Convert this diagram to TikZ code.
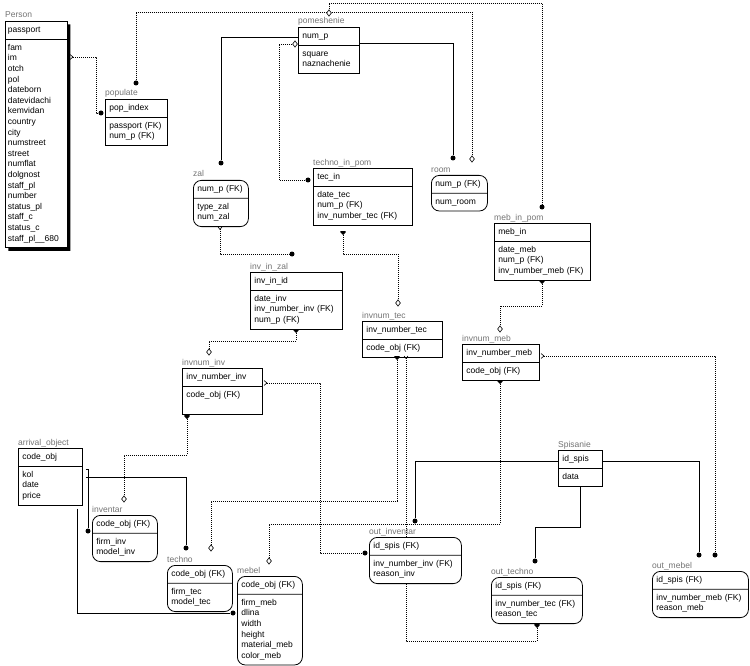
\documentclass[tikz,border=0pt]{standalone}
\usepackage{fontspec}
\setmainfont{Liberation Sans}
\usetikzlibrary{shapes.multipart,shapes.geometric,shadows}
\pgfdeclarelayer{back}
\pgfsetlayers{back,main}

\begin{document}
\begin{tikzpicture}[x=1pt,y=-1pt,
  font=\fontsize{8.5}{10.6}\selectfont,
  ent/.style={rectangle split, rectangle split parts=2, draw, fill=white, line width=0.8pt,
    anchor=north west, inner xsep=4pt, inner ysep=3.2pt, align=left},
  rnd/.style={ent, rounded corners=8pt},
  lbl/.style={anchor=base west, inner sep=0pt, yshift=3pt, text=black!55},
  dot/.style={circle, fill, inner sep=0pt, minimum size=5pt},
  dia/.style={diamond, draw, fill=white, line width=0.6pt, inner sep=0pt, minimum width=5pt, minimum height=6.5pt},
  rel/.style={line width=0.8pt},
  nrel/.style={line width=0.8pt, dash pattern=on 1pt off 1pt}]
  \useasboundingbox (0,0) rectangle (750,666);

  % entities
  \node[ent, text width=57pt, inner xsep=2.5pt, drop shadow={shadow xshift=3pt, shadow yshift=-3pt, opacity=1, fill=black},
    label={[lbl]north west:Person}] (person) at (5,21)
    {\strut passport\strut\nodepart{two}\strut fam\\im\\otch\\pol\\dateborn\\datevidachi\\kemvidan\\country\\city\\numstreet\\street\\numflat\\dolgnost\\staff\_pl\\number\\status\_pl\\staff\_c\\status\_c\\staff\_pl\_\_680\strut};
  \node[ent, text width=54pt, label={[lbl]north west:populate}] (populate) at (105,99)
    {\strut pop\_index\strut\nodepart{two}\strut passport~(FK)\\num\_p~(FK)\strut};
  \node[ent, text width=53pt, label={[lbl]north west:pomeshenie}] (pomeshenie) at (298,27)
    {\strut num\_p\strut\nodepart{two}\strut square\\naznachenie\strut};
  \node[rnd, text width=47pt, label={[lbl]north west:zal}] (zal) at (193,180)
    {\strut num\_p~(FK)\strut\nodepart{two}\strut type\_zal\\num\_zal\strut};
  \node[ent, text width=91pt, label={[lbl]north west:techno\_in\_pom}] (techno_in_pom) at (313,168)
    {\strut tec\_in\strut\nodepart{two}\strut date\_tec\\num\_p~(FK)\\inv\_number\_tec~(FK)\strut};
  \node[rnd, text width=48pt, label={[lbl]north west:room}] (room) at (431,175)
    {\strut num\_p~(FK)\strut\nodepart{two}\strut num\_room\strut};
  \node[ent, text width=88pt, label={[lbl]north west:meb\_in\_pom}] (meb_in_pom) at (494,223)
    {\strut meb\_in\strut\nodepart{two}\strut date\_meb\\num\_p~(FK)\\inv\_number\_meb~(FK)\strut};
  \node[ent, text width=84pt, label={[lbl]north west:inv\_in\_zal}] (inv_in_zal) at (250,272)
    {\strut inv\_in\_id\strut\nodepart{two}\strut date\_inv\\inv\_number\_inv~(FK)\\num\_p~(FK)\strut};
  \node[ent, text width=72pt, label={[lbl]north west:invnum\_tec}] (invnum_tec) at (362,321)
    {\strut inv\_number\_tec\strut\nodepart{two}\strut code\_obj~(FK)\strut};
  \node[ent, text width=72pt, label={[lbl]north west:invnum\_inv}] (invnum_inv) at (182,368)
    {\strut inv\_number\_inv\strut\nodepart{two}\strut code\_obj~(FK)\\\strut};
  \node[ent, text width=69pt, label={[lbl]north west:invnum\_meb}] (invnum_meb) at (462,344)
    {\strut inv\_number\_meb\strut\nodepart{two}\strut code\_obj~(FK)\strut};
  \node[ent, text width=36pt, label={[lbl]north west:Spisanie}] (spisanie) at (558,450)
    {\strut id\_spis\strut\nodepart{two}\strut data\strut};
  \node[ent, text width=56pt, label={[lbl]north west:arrival\_object}] (arrival) at (18,448)
    {\strut code\_obj\strut\nodepart{two}\strut kol\\date\\price\strut};
  \node[rnd, text width=57pt, label={[lbl]north west:inventar}] (inventar) at (92,515)
    {\strut code\_obj~(FK)\strut\nodepart{two}\strut firm\_inv\\model\_inv\strut};
  \node[rnd, text width=57pt, label={[lbl]north west:techno}] (techno) at (167,565)
    {\strut code\_obj~(FK)\strut\nodepart{two}\strut firm\_tec\\model\_tec\strut};
  \node[rnd, text width=57pt, label={[lbl]north west:mebel}] (mebel) at (237,576)
    {\strut code\_obj~(FK)\strut\nodepart{two}\strut firm\_meb\\dlina\\width\\height\\material\_meb\\color\_meb\strut};
  \node[rnd, text width=84pt, label={[lbl]north west:out\_inventar}] (out_inventar) at (369,537)
    {\strut id\_spis~(FK)\strut\nodepart{two}\strut inv\_number\_inv~(FK)\\reason\_inv\strut};
  \node[rnd, text width=83pt, label={[lbl]north west:out\_techno}] (out_techno) at (491,577)
    {\strut id\_spis~(FK)\strut\nodepart{two}\strut inv\_number\_tec~(FK)\\reason\_tec\strut};
  \node[rnd, text width=88pt, label={[lbl]north west:out\_mebel}] (out_mebel) at (652,571)
    {\strut id\_spis~(FK)\strut\nodepart{two}\strut inv\_number\_meb~(FK)\\reason\_meb\strut};

  % relationship ends
  \node[dot] (pop-d1) at (101,113) {};
  \node[dot] (pop-d2) at (136,83) {};
  \node[dot] (zal-d) at (221,163) {};
  \node[dot] (room-d) at (453,158) {};
  \node[dia] (room-k) at (472,159) {};
  \node[dia] (pom-k1) at (329,13) {};
  \node[dia] (pom-k2) at (295,44) {};
  \node[dot] (mip-d) at (542,207) {};
  \node[dot] (tip-d) at (308,180) {};
  \node[dot] (iz-d) at (292,254) {};
  \node[dia] (it-k) at (398,303) {};
  \node[dia] (ii-k) at (209,352) {};
  \node[dia] (im-k) at (500,329) {};
  \node[dot] (oi-d1) at (415,521) {};
  \node[dot] (oi-d2) at (365,553) {};
  \node[dot] (ot-d) at (535,561) {};
  \node[dot] (om-d1) at (699,555) {};
  \node[dot] (om-d2) at (715,555) {};
  \node[dot] (inv-d) at (88,531) {};
  \node[dot] (tec-d) at (186,548) {};
  \node[dot] (meb-d) at (233,613) {};
  \node[dia] (inv-k) at (124,499) {};
  \node[dia] (tec-k) at (211,548) {};
  \node[dia] (meb-k) at (269,561) {};

  \coordinate (tip-t) at (343,233);
  \coordinate (iz-t) at (296,331);
  \coordinate (mip-t) at (542,282);
  \coordinate (it-t) at (397,358);
  \coordinate (im-t) at (500,382);
  \coordinate (ii-t) at (187,417);
  \coordinate (ot-t) at (537,626);
  \coordinate (zal-y) at (220,229);
  \coordinate (it-y) at (406,358);
  \coordinate (per-c) at (70,57);
  \coordinate (ii-c) at (264,383);
  \coordinate (im-c) at (541,356);

  \foreach \c in {tip-t,iz-t,mip-t,it-t,im-t,ii-t,ot-t}
    \fill (\c) ++(-2.6,-1.8) -- ++(5.2,0) -- ++(0,1.2) -- ++(-2.6,2.6) -- ++(-2.6,-2.6) -- cycle;
  \foreach \c in {zal-y,it-y}
    \draw[line width=0.6pt] (\c) ++(-2,-2) -- ++(2,2.5) -- ++(2,-2.5);
  \foreach \c in {per-c,ii-c,im-c}
    \draw[line width=0.6pt] (\c) ++(0,-2.5) -- ++(3,2.5) -- ++(-3,2.5);

  \begin{pgfonlayer}{back}
  % identifying
  \draw[rel] ([yshift=-10pt]pomeshenie.north west) -| (zal-d);
  \draw[rel] ([yshift=-16pt]pomeshenie.north east) -| (room-d);
  \draw[rel] ([yshift=-11pt]spisanie.north west) -| (oi-d1);
  \draw[rel] (spisanie.south) -- ++(0,41) -| (ot-d);
  \draw[rel] ([yshift=-11pt]spisanie.north east) -| (om-d1);
  \draw[rel] ([shift={(3pt,-21pt)}]arrival.north east) -| (inv-d);
  \draw[rel] ([shift={(3pt,-29pt)}]arrival.north east) -| (tec-d);
  \draw[rel] ([shift={(-5pt,-3pt)}]arrival.south east) |- (meb-d);
  % non-identifying
  \draw[nrel] ([xshift=3pt]per-c) -| ([xshift=-5pt]pop-d1.center) -- (pop-d1);
  \draw[nrel] (pop-d2) -- ++(0,-71) -| (room-k);
  \draw[nrel] (pom-k1) -- ++(0,-10) -| (mip-d);
  \draw[nrel] (pom-k2) -| ([xshift=-29pt]tip-d.center) -- (tip-d);
  \draw[nrel] (zal-y) |- (iz-d);
  \draw[nrel] (tip-t) -- ++(0,21) -| (it-k);
  \draw[nrel] (iz-t) -- ++(0,10) -| (ii-k);
  \draw[nrel] (mip-t) -- ++(0,24) -| (im-k);
  \draw[nrel] ([xshift=3pt]ii-c) -| ([xshift=-45pt]oi-d2.center) -- (oi-d2);
  \draw[nrel] (it-t) -- ++(0,143) -| (tec-k);
  \draw[nrel] (it-y) -- ++(0,283) -| (ot-t);
  \draw[nrel] (im-t) -- ++(0,142) -| (meb-k);
  \draw[nrel] ([xshift=3pt]im-c) -| (om-d2);
  \draw[nrel] (ii-t) -- ++(0,38) -| (inv-k);
  \end{pgfonlayer}
\end{tikzpicture}
\end{document}
